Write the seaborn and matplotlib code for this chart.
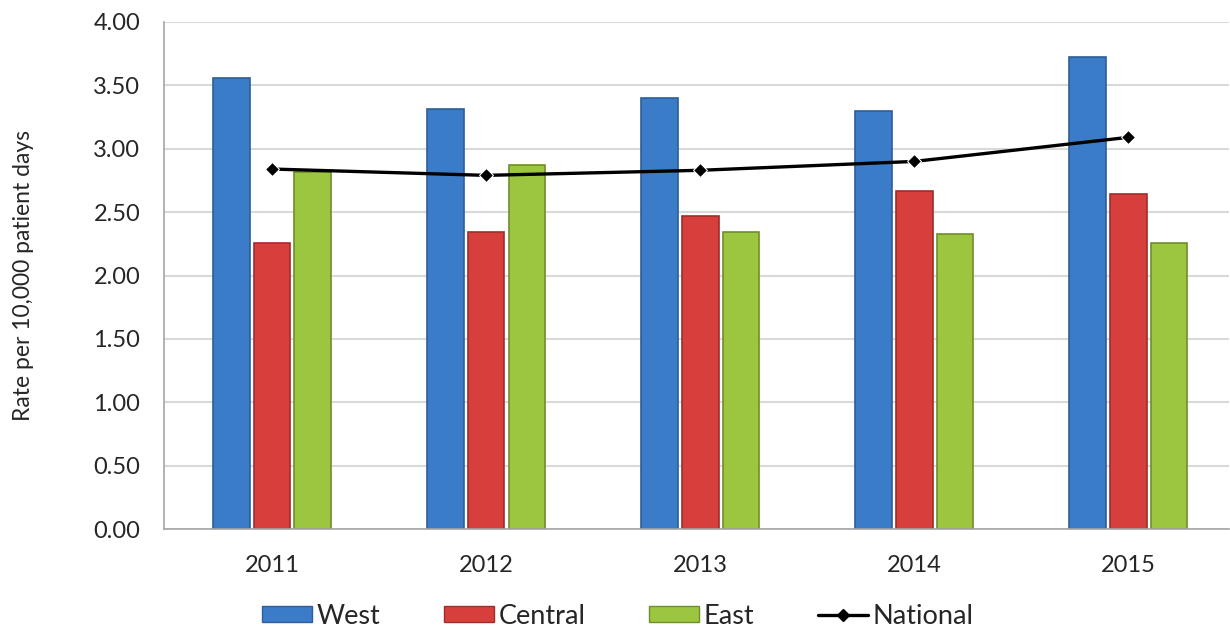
import pandas as pd
import matplotlib.pyplot as plt
import seaborn as sns

years = ['2011', '2012', '2013', '2014', '2015']
west = [3.56, 3.31, 3.40, 3.30, 3.72]
central = [2.26, 2.34, 2.47, 2.67, 2.64]
east = [2.82, 2.87, 2.34, 2.33, 2.26]
national = [2.84, 2.79, 2.83, 2.90, 3.09]

regions = ['West', 'Central', 'East']
colors = ['#3A7CC8', '#D63F3B', '#9DC640']
edges = ['#2F5F96', '#9E2E2B', '#6F8E2C']

df = pd.DataFrame({'year': years * 3,
                   'region': sum([[r] * len(years) for r in regions], []),
                   'rate': west + central + east})

sns.set_style('white')
plt.rcParams['font.family'] = ['Lato', 'DejaVu Sans']

fig = plt.figure(figsize=(12.3, 6.27), dpi=100)
ax = fig.add_axes([164 / 1230, 1 - 529 / 627, (1229 - 164) / 1230, (529 - 22) / 627])

sns.barplot(data=df, x='year', y='rate', hue='region', palette=colors,
            saturation=1, width=0.57, gap=0.1, ax=ax, legend=False)
for i, cont in enumerate(ax.containers):
    for bar in cont:
        bar.set_edgecolor(edges[i])
        bar.set_linewidth(1.2)

sns.lineplot(x=years, y=national, color='black', lw=2.4, marker='D', ms=7,
             sort=False, ax=ax, zorder=5)

ax.set_ylim(0, 4)
ax.set_yticks([i * 0.5 for i in range(9)])
ax.set_yticklabels([f'{i * 0.5:.2f}' for i in range(9)])
ax.set_xlim(-0.505, 4.47)
ax.yaxis.grid(True, color='#D9D9D9', lw=1.5)
ax.set_axisbelow(True)
for s in ['top', 'right']:
    ax.spines[s].set_visible(False)
ax.spines['left'].set_color('#A6A6A6')
ax.spines['bottom'].set_color('#A6A6A6')
ax.spines['left'].set_linewidth(1.2)
ax.spines['bottom'].set_linewidth(1.2)
ax.tick_params(axis='y', length=0, labelsize=17, pad=17)
ax.tick_params(axis='x', length=0, labelsize=17, pad=19)
ax.set_xlabel('')
ax.set_ylabel('Rate per 10,000 patient days', fontsize=16.5, labelpad=43)

handles = [plt.Rectangle((0, 0), 1, 1, fc=c, ec=e) for c, e in zip(colors, edges)]
handles.append(plt.Line2D([], [], color='black', lw=2.4, marker='D', ms=6))
fig.legend(handles, regions + ['National'], loc='center', ncol=4,
           bbox_to_anchor=(618 / 1230, 11 / 627), frameon=False, fontsize=19.5,
           handlelength=1.84, handleheight=0.58, handletextpad=0.18,
           columnspacing=2.34, borderpad=0, borderaxespad=0)

fig.savefig('out.png', dpi=100)
